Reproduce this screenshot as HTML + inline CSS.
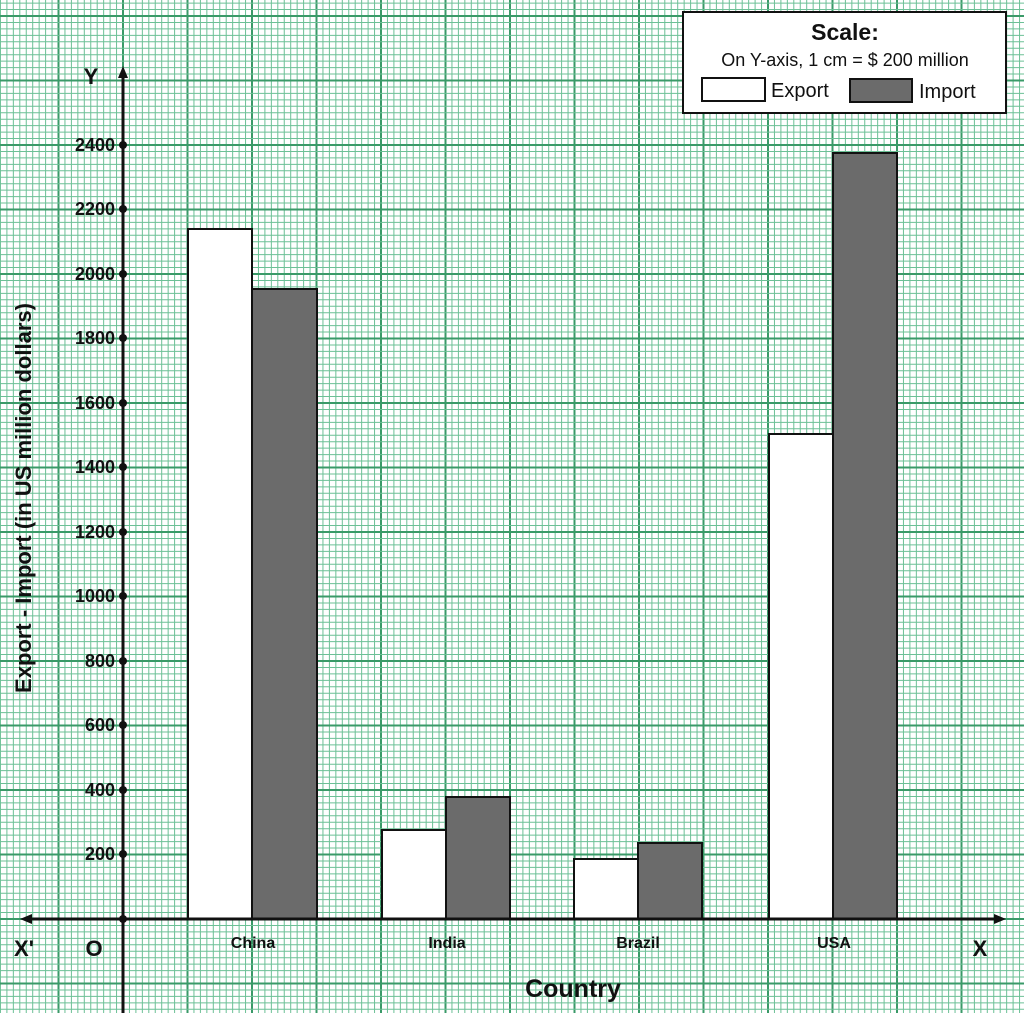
<!DOCTYPE html>
<html><head><meta charset="utf-8"><style>
html,body{margin:0;padding:0;background:#fff}
svg{display:block}
text{font-family:"Liberation Sans",sans-serif;fill:#111}
</style></head><body>
<svg id="s" width="1024" height="1013" viewBox="0 0 1024 1013" xmlns="http://www.w3.org/2000/svg">
<rect width="1024" height="1013" fill="#fff"/>
<g id="grid"></g>

<g stroke="#111" stroke-width="2">
<rect x="188" y="229" width="64" height="690" fill="#fff"/>
<rect x="252" y="289" width="65" height="630" fill="#6b6b6b"/>
<rect x="382" y="830" width="64" height="89" fill="#fff"/>
<rect x="446" y="797" width="64" height="122" fill="#6b6b6b"/>
<rect x="574" y="859" width="64" height="60" fill="#fff"/>
<rect x="638" y="843" width="64" height="76" fill="#6b6b6b"/>
<rect x="769" y="434" width="64" height="485" fill="#fff"/>
<rect x="833" y="153" width="64" height="766" fill="#6b6b6b"/>
</g>

<line x1="123" y1="75" x2="123" y2="1013" stroke="#111" stroke-width="3"/>
<line x1="28" y1="919" x2="998" y2="919" stroke="#111" stroke-width="3"/>
<polygon points="123,66 118,78 128,78" fill="#111"/>
<polygon points="20,919 32,914 32,924" fill="#111"/>
<polygon points="1006,919 994,914 994,924" fill="#111"/>
<g fill="#111">
<circle cx="123" cy="919" r="4"/>
<circle cx="123" cy="145" r="4"/><circle cx="123" cy="209" r="4"/><circle cx="123" cy="274" r="4"/>
<circle cx="123" cy="338" r="4"/><circle cx="123" cy="403" r="4"/><circle cx="123" cy="467" r="4"/>
<circle cx="123" cy="532" r="4"/><circle cx="123" cy="596" r="4"/><circle cx="123" cy="661" r="4"/>
<circle cx="123" cy="725" r="4"/><circle cx="123" cy="790" r="4"/><circle cx="123" cy="854" r="4"/>
</g>
<g font-size="18" font-weight="bold" text-anchor="end">
<text x="115" y="151">2400</text><text x="115" y="215">2200</text><text x="115" y="280">2000</text>
<text x="115" y="344">1800</text><text x="115" y="409">1600</text><text x="115" y="473">1400</text>
<text x="115" y="538">1200</text><text x="115" y="602">1000</text><text x="115" y="667">800</text>
<text x="115" y="731">600</text><text x="115" y="796">400</text><text x="115" y="860">200</text>
</g>
<g font-size="16" font-weight="bold" text-anchor="middle">
<text x="253" y="948">China</text><text x="447" y="948">India</text>
<text x="638" y="948">Brazil</text><text x="834" y="948">USA</text>
</g>
<text x="91" y="84" font-size="22" font-weight="bold" text-anchor="middle">Y</text>
<text x="24" y="956" font-size="22" font-weight="bold" text-anchor="middle">X'</text>
<text x="94" y="956" font-size="22" font-weight="bold" text-anchor="middle">O</text>
<text x="980" y="956" font-size="22" font-weight="bold" text-anchor="middle">X</text>
<text x="573" y="997" font-size="25" font-weight="bold" text-anchor="middle">Country</text>
<text transform="translate(31 498) rotate(-90)" font-size="22" font-weight="bold" text-anchor="middle">Export - Import (in US million dollars)</text>

<rect x="683" y="12" width="323" height="101" fill="#fff" stroke="#111" stroke-width="2"/>
<text x="845" y="40" font-size="23" font-weight="bold" text-anchor="middle">Scale:</text>
<text x="845" y="66" font-size="18" text-anchor="middle">On Y-axis, 1 cm = $ 200 million</text>
<rect x="702" y="78" width="63" height="23" fill="#fff" stroke="#111" stroke-width="2"/>
<text x="771" y="97" font-size="20">Export</text>
<rect x="850" y="79" width="62" height="23" fill="#6b6b6b" stroke="#111" stroke-width="2"/>
<text x="919" y="98" font-size="20">Import</text>
</svg>
<script>
(function(){
var g=document.getElementById('grid'),ns='http://www.w3.org/2000/svg',h='';
var step=6.45,x0=123,y0=919;
for(var i=-20;i<=160;i++){
 var x=x0+i*step; if(x<-2||x>1026) continue;
 var maj=(i%10===0);
 h+='<line x1="'+x.toFixed(2)+'" y1="0" x2="'+x.toFixed(2)+'" y2="1013" stroke="'+(maj?'#3a9a68':'#6cc096')+'" stroke-width="'+(maj?2:1)+'"/>';
}
for(var j=-20;j<=160;j++){
 var y=y0-j*step; if(y<-2||y>1015) continue;
 var maj=(j%10===0);
 h+='<line x1="0" y1="'+y.toFixed(2)+'" x2="1024" y2="'+y.toFixed(2)+'" stroke="'+(maj?'#3a9a68':'#6cc096')+'" stroke-width="'+(maj?2:1)+'"/>';
}
g.innerHTML=h;
})();
</script>
</body></html>
